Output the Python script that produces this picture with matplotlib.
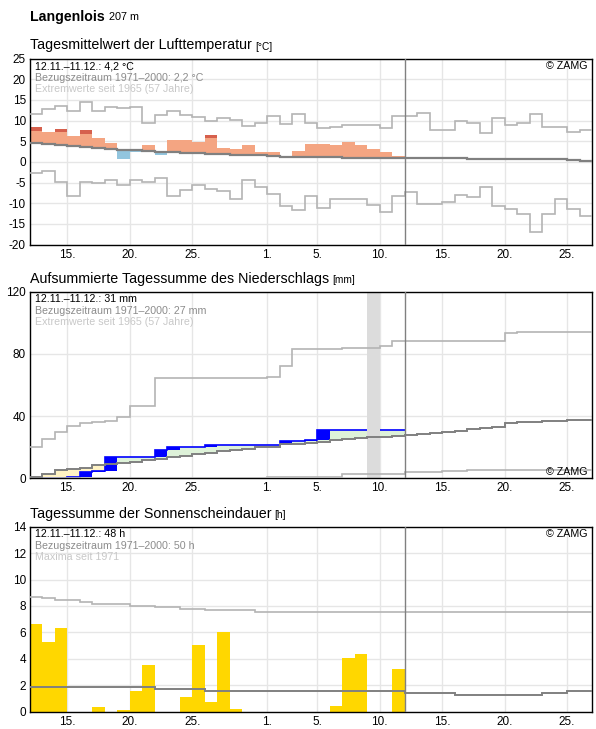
import numpy as np
import matplotlib
matplotlib.use("Agg")
import matplotlib.pyplot as plt

plt.rcParams['font.family'] = ['Liberation Sans', 'DejaVu Sans']
plt.rcParams['axes.unicode_minus'] = False

W, H = 596, 729

# Tage ab 12.11. (0) bis 27.12. (45)
tick_pos = [3, 8, 13, 19, 23, 28, 33, 38, 43]
tick_lab = ["15.", "20.", "25.", "1.", "5.", "10.", "15.", "20.", "25."]
heute = 30

# Lufttemperatur (Tagesmittel)
t_aktuell = [8.5, 7.3, 8.0, 6.3, 7.8, 5.8, 4.6, 0.6, 2.3, 4.1, 1.7, 5.3, 5.3, 4.9, 6.6,
             3.3, 3.1, 4.0, 2.3, 2.5, 1.2, 2.7, 4.4, 4.2, 4.0, 4.9, 4.0, 3.0, 2.5, 1.3]
nan = np.nan
t_dunkel = [7.5, nan, 7.1, nan, 6.8, nan, nan, nan, nan, nan, nan, nan, nan, nan, 5.7,
            nan, nan, nan, nan, nan, nan, nan, nan, nan, nan, 4.7, nan, nan, nan, nan]
t_mittel = [4.6, 4.4, 4.1, 3.9, 3.6, 3.3, 3.1, 2.9, 2.8, 2.7, 2.5, 2.4, 2.2, 2.1, 2.0,
            1.9, 1.7, 1.6, 1.6, 1.4, 1.2, 1.2, 1.1, 1.1, 1.1, 1.0, 1.0, 1.0, 1.0, 0.9,
            0.9, 0.9, 0.9, 0.9, 0.9, 0.8, 0.8, 0.8, 0.8, 0.7, 0.6, 0.6, 0.6, 0.5, 0.3]
t_max = [11.6, 12.8, 13.5, 12.2, 14.4, 12.2, 13.3, 13.1, 13.3, 9.5, 11.4, 12.2, 11.4, 10.9, 10.0,
         10.6, 10.2, 8.7, 9.4, 11.1, 9.2, 11.6, 9.5, 8.3, 8.4, 8.9, 8.9, 8.9, 8.3, 11.0,
         11.0, 11.7, 7.8, 7.6, 9.9, 9.5, 6.9, 10.7, 8.8, 9.5, 11.5, 8.4, 8.4, 7.1, 7.6]
t_min = [-2.6, -2.3, -4.8, -8.3, -4.8, -5.2, -4.5, -5.5, -4.5, -4.8, -4.0, -8.3, -6.7, -5.7, -6.5,
         -7.0, -8.9, -4.5, -6.2, -7.7, -10.6, -11.6, -8.2, -11.1, -8.9, -8.9, -9.1, -10.4, -12.1, -8.2,
         -7.4, -10.3, -10.1, -9.8, -8.1, -8.4, -6.0, -10.8, -11.5, -12.5, -16.9, -12.5, -8.9, -11.5, -13.0]

# Niederschlag (aufsummiert)
p_aktuell = [0, 0, 0, 0.9, 4.1, 4.7, 13.7, 13.7, 13.7, 13.7, 18.2, 20.1, 20.1, 20.1, 21.4,
             21.4, 21.4, 21.4, 21.4, 21.4, 23.9, 23.9, 24.5, 31.0, 31.0, 31.0, 31.0, 31.0, 31.0, 31.0]
p_mittel = [1.1, 3.0, 5.1, 5.8, 6.8, 8.3, 9.2, 9.6, 10.7, 11.6, 12.6, 13.7, 14.5, 15.4, 16.5,
            17.5, 18.2, 18.8, 19.9, 20.3, 21.8, 22.3, 22.7, 23.3, 24.4, 25.0, 25.7, 26.3, 26.7, 27.3,
            27.8, 28.2, 28.9, 30.0, 30.6, 31.4, 32.2, 33.1, 35.3, 35.9, 36.4, 36.7, 37.0, 37.4, 37.8]
p_max = [19.9, 25.0, 29.9, 33.8, 35.7, 36.4, 36.6, 39.1, 46.4, 46.8, 64.2, 64.2, 64.2, 64.2, 64.2,
         64.2, 64.2, 64.2, 64.8, 65.3, 72.5, 83.4, 83.4, 83.4, 83.4, 83.8, 84.0, 84.0, 84.9, 88.1,
         88.1, 88.1, 88.1, 88.1, 88.1, 88.1, 88.1, 88.1, 93.5, 93.9, 93.9, 93.9, 93.9, 93.9, 93.9]
p_min = [0] * 19 + [0.6] * 6 + [2.6] * 5 + [4.0] * 3 + [4.5] * 2 + [5.1] * 10
p_fehlt = 27

# Sonnenscheindauer
s_aktuell = [6.6, 5.3, 6.3, 0, 0, 0.35, 0, 0.1, 1.6, 3.5, 0, 0, 1.1, 5.05, 0.7,
             6.0, 0.2, 0, 0, 0, 0, 0, 0, 0, 0.4, 4.1, 4.4, 0, 0, 3.2]
s_mittel = [1.9] * 3 + [1.85] * 7 + [1.7] * 4 + [1.6] * 12 + [1.55] * 4 + [1.4] * 4 + [1.3] * 7 + [1.4] * 2 + [1.55] * 2
s_max = [8.66, 8.59, 8.43, 8.43, 8.28, 8.13, 8.13, 8.13, 7.98, 7.98, 7.9, 7.9, 7.75, 7.75] + [7.68] * 4 + [7.53] * 27

HELL = "#b4b4b4"
MITTEL = "#808080"

fig = plt.figure(figsize=(W / 100, H / 100), dpi=100)
renderer = fig.canvas.get_renderer()


def achse(top_px, bottom_px, ylim, yticks):
    ax = fig.add_axes([30 / W, 1 - bottom_px / H, 562 / W, (bottom_px - top_px) / H])
    ax.set_xlim(0, 45)
    ax.set_ylim(*ylim)
    ax.set_xticks(tick_pos)
    ax.set_xticklabels(tick_lab)
    ax.set_yticks(yticks)
    ax.tick_params(length=0, labelsize=8.5, pad=3)
    ax.grid(True, color="#e6e6e6", lw=1)
    ax.set_axisbelow(True)
    for s in ax.spines.values():
        s.set_color("black")
        s.set_linewidth(1)
    ax.axvline(heute, color=MITTEL, lw=1, zorder=5)
    return ax


def titel(y_px, text, einheit, size=10.3, esize=7.3, bold=False, gap=3):
    t = fig.text(30 / W, 1 - y_px / H, text, fontsize=size, va="baseline",
                 fontweight="bold" if bold else "normal")
    bb = t.get_window_extent(renderer)
    fig.text((bb.x1 + gap) / W, 1 - y_px / H, einheit, fontsize=esize, va="baseline")


def infotext(ax, zeilen, zamg_oben=True):
    farben = ["black", "#8c8c8c", "#c8c8c8"]
    for i, z in enumerate(zeilen):
        ax.annotate(z, xy=(0, 1), xycoords="axes fraction", xytext=(3.6, -5.5 - i * 8.2),
                    textcoords="offset points", va="center", ha="left", fontsize=7.7,
                    color=farben[i], zorder=6)
    if zamg_oben:
        ax.annotate("© ZAMG", xy=(1, 1), xycoords="axes fraction", xytext=(-3.6, -5.5),
                    textcoords="offset points", va="center", ha="right", fontsize=7.7)
    else:
        ax.annotate("© ZAMG", xy=(1, 0), xycoords="axes fraction", xytext=(-3.6, 4.5),
                    textcoords="offset points", va="center", ha="right", fontsize=7.7)


def stufen(ax, werte, farbe, lw, z=3):
    ax.stairs(werte, np.arange(len(werte) + 1), baseline=None, color=farbe, lw=lw, zorder=z)


titel(20.5, "Langenlois", "207 m", size=10.2, esize=7.8, bold=True, gap=4.5)

# --- Temperatur ---
ax1 = achse(58.5, 244.5, (-20, 25), range(-20, 26, 5))
titel(49.5, "Tagesmittelwert der Lufttemperatur", "[°C]")
tage = np.arange(len(t_aktuell))
akt = np.array(t_aktuell)
mit = np.array(t_mittel[:len(tage)])
dunkel = np.array(t_dunkel)
warm = akt >= mit
hell_oben = np.where(np.isnan(dunkel), akt, dunkel)
ax1.bar(tage[warm], (hell_oben - mit)[warm], bottom=mit[warm], width=1, align="edge",
        color="#f4a582", zorder=2)
cap = ~np.isnan(dunkel)
ax1.bar(tage[cap], (akt - dunkel)[cap], bottom=dunkel[cap], width=1, align="edge",
        color="#d6604d", zorder=2)
ax1.bar(tage[~warm], (mit - akt)[~warm], bottom=akt[~warm], width=1, align="edge",
        color="#92c5de", zorder=2)
stufen(ax1, t_max, HELL, 1.2)
stufen(ax1, t_min, HELL, 1.2)
stufen(ax1, t_mittel, MITTEL, 1.6, 4)
infotext(ax1, ["12.11.–11.12.: 4,2 °C", "Bezugszeitraum 1971–2000: 2,2 °C",
               "Extremwerte seit 1965 (57 Jahre)"])

# --- Niederschlag ---
ax2 = achse(291.7, 478.3, (0, 120), [0, 40, 80, 120])
titel(283.3, "Aufsummierte Tagessumme des Niederschlags", "[mm]")
pak = np.array(p_aktuell)
pmi = np.array(p_mittel[:len(pak)])
tage = np.arange(len(pak))
nass = pak >= pmi
ax2.bar(tage[nass], (pak - pmi)[nass], bottom=pmi[nass], width=1, align="edge",
        color="#def2d9", zorder=1.5)
ax2.bar(tage[~nass], (pmi - pak)[~nass], bottom=pak[~nass], width=1, align="edge",
        color="#fff3c4", zorder=1.5)
vorher = np.concatenate([[0], pak[:-1]])
zuwachs = pak - vorher
neu = zuwachs > 0
ax2.bar(tage[neu], zuwachs[neu], bottom=vorher[neu], width=1, align="edge",
        color="#0000ff", zorder=2)
stufen(ax2, p_aktuell, "#0000ff", 1.2, 2.2)
ax2.axvspan(p_fehlt, p_fehlt + 1, color="#dcdcdc", lw=0, zorder=2.5)
stufen(ax2, p_max, HELL, 1.2)
stufen(ax2, p_min, HELL, 1.2)
stufen(ax2, p_mittel, MITTEL, 1.4, 4)
infotext(ax2, ["12.11.–11.12.: 31 mm", "Bezugszeitraum 1971–2000: 27 mm",
               "Extremwerte seit 1965 (57 Jahre)"], zamg_oben=False)

# --- Sonnenschein ---
ax3 = achse(526.7, 711.7, (0, 14), range(0, 15, 2))
titel(517.7, "Tagessumme der Sonnenscheindauer", "[h]")
ax3.bar(np.arange(len(s_aktuell)), s_aktuell, width=1, align="edge", color="#ffd700", zorder=2)
stufen(ax3, s_max, HELL, 1.2)
stufen(ax3, s_mittel, MITTEL, 1.4, 4)
infotext(ax3, ["12.11.–11.12.: 48 h", "Bezugszeitraum 1971–2000: 50 h", "Maxima seit 1971"])

fig.savefig("out.png", dpi=100)
